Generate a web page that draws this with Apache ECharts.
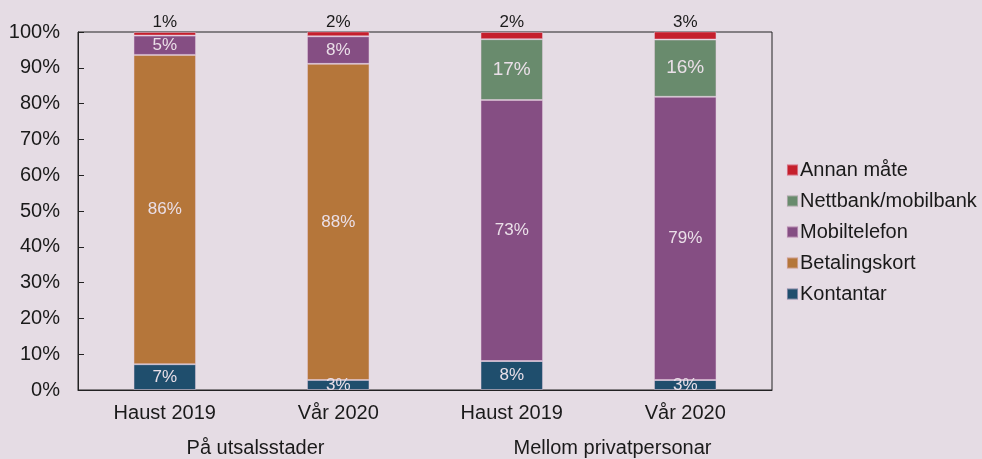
<!DOCTYPE html>
<html>
<head>
<meta charset="utf-8">
<script src="https://cdn.jsdelivr.net/npm/echarts@6/dist/echarts.min.js"></script>
<style>
  html, body { margin: 0; padding: 0; background: #e5dce4; }
  #chart { width: 982px; height: 459px; }
</style>
</head>
<body>
<div id="chart"></div>
<script>
var categories = ['Haust 2019', 'Vår 2020', 'Haust 2019', 'Vår 2020']
var groups = ['På utsalsstader', 'Mellom privatpersonar']
var yTicks = [0, 10, 20, 30, 40, 50, 60, 70, 80, 90, 100]

// prosent, lest av figuren
var kontantar = [7.2, 2.8, 8.1, 2.8]
var betalingskort = [86.4, 88.3, 0, 0]
var mobiltelefon = [5.4, 7.7, 72.9, 79.1]
var nettbank = [0, 0, 17.0, 16.0]
var annan = [1.0, 1.5, 2.0, 2.5]

var font = '"Liberation Sans", Arial, sans-serif'
var textColor = '#1a1a1a'
var inLabel = '#eadfe8'

function pct (p) {
  if (!p.value) return ''
  return Math.round(p.value) + '%'
}

function mkSeries (name, data, color, labelOpt) {
  return {
    name: name,
    type: 'bar',
    stack: 'tot',
    barWidth: '36%',
    data: data,
    itemStyle: { color: color, borderColor: 'rgba(230,205,225,0.45)', borderWidth: 1 },
    label: Object.assign({
      show: true,
      position: 'inside',
      formatter: pct,
      color: inLabel,
      fontFamily: font,
      fontSize: 17
    }, labelOpt || {})
  }
}

var chart = echarts.init(document.getElementById('chart'))
chart.setOption({
  backgroundColor: '#e5dce4',
  animation: false,
  textStyle: { fontFamily: font },
  grid: { left: 78, right: 210, top: 32, bottom: 69, show: true, borderColor: '#222', borderWidth: 1 },
  legend: {
    orient: 'vertical',
    left: 781,
    top: 155,
    itemWidth: 11,
    itemHeight: 11,
    itemGap: 11,
    icon: 'rect',
    textStyle: { fontSize: 20, color: textColor, fontFamily: font, padding: [0, 0, 0, -3] },
    data: ['Annan måte', 'Nettbank/mobilbank', 'Mobiltelefon', 'Betalingskort', 'Kontantar']
  },
  xAxis: [
    {
      type: 'category',
      data: categories,
      axisLine: { lineStyle: { color: '#222', width: 1 } },
      axisTick: { show: false },
      axisLabel: { color: textColor, fontSize: 20, margin: 13, fontFamily: font }
    },
    {
      type: 'category',
      data: groups,
      position: 'bottom',
      offset: 34,
      axisLine: { show: false },
      axisTick: { show: false },
      axisLabel: {
        color: textColor,
        fontSize: 20,
        margin: 14,
        fontFamily: font,
        formatter: function (v, i) { return i === 1 ? '{b|' + v + '}' : '{a|' + v + '}' },
        rich: {
          a: { fontSize: 20, fontFamily: font, color: textColor, padding: [0, 0, 0, 8] },
          b: { fontSize: 20, fontFamily: font, color: textColor, padding: [0, 0, 0, 28] }
        }
      }
    }
  ],
  yAxis: {
    type: 'value',
    min: yTicks[0],
    max: yTicks[yTicks.length - 1],
    interval: 10,
    axisLine: { show: true, lineStyle: { color: '#222', width: 1 } },
    axisTick: { show: true, inside: true, length: 6, lineStyle: { color: '#222' } },
    splitLine: { show: false },
    axisLabel: { color: textColor, fontSize: 20, margin: 18, fontFamily: font, formatter: '{value}%' }
  },
  series: [
    mkSeries('Kontantar', kontantar, '#1f4e6d'),
    mkSeries('Betalingskort', betalingskort, '#b5763a'),
    mkSeries('Mobiltelefon', mobiltelefon, '#854e83'),
    mkSeries('Nettbank/mobilbank', nettbank, '#698b6d', { fontSize: 19 }),
    mkSeries('Annan måte', annan, '#c51f2c', { position: 'top', color: textColor, distance: 1 })
  ]
})
</script>
</body>
</html>
